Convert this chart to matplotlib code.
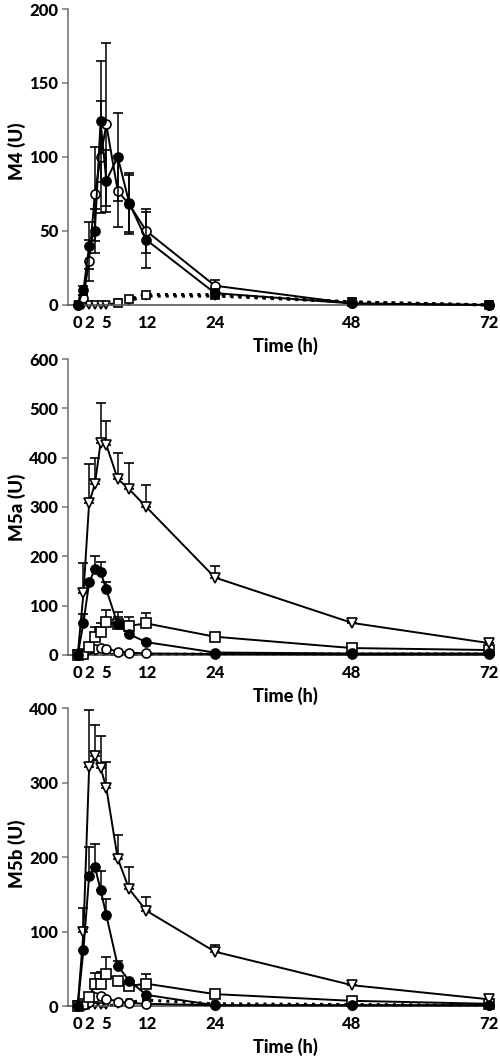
import numpy as np
import matplotlib
matplotlib.use("Agg")
import matplotlib.pyplot as plt

plt.rcParams['font.family'] = ['Lato', 'DejaVu Sans']
plt.rcParams['font.weight'] = 'black'

# sampling times (h)
times = [0, 1, 2, 3, 4, 5, 7, 9, 12, 24, 48, 72]
xticks = [0, 2, 5, 12, 24, 48, 72]
nan = np.nan

# M4 panel
m4_filled = [0, 10, 40, 50, 124, 84, 100, 69, 44, 8, 1, 0]
m4_filled_err = [0, 3, 16, 15, 41, 21, 30, 20, 19, 3, 1, 0]
m4_open = [0, 5, 30, 75, 100, 122, 77, 68, 50, 13, 1, 0]
m4_open_err = [0, 2, 14, 32, 38, 55, 24, 20, 15, 4, 1, 0]
m4_tri = [0, 0, 0, 0, 0, 0, 1, 3, 6, 6, 2, 0]
m4_sq = [nan, nan, nan, nan, nan, nan, 1, 4, 7, 7, 2, 0]

# M5a panel
m5a_tri = [0, 125, 309, 346, 430, 426, 357, 336, 300, 157, 65, 24]
m5a_tri_err = [0, 61, 79, 53, 81, 49, 52, 54, 45, 24, 0, 0]
m5a_filled = [0, 65, 147, 174, 168, 133, 62, 42, 26, 5, 3, 3]
m5a_filled_err = [0, 18, 0, 26, 21, 14, 25, 0, 0, 0, 0, 0]
m5a_sq = [0, 2, 17, 37, 46, 66, 62, 59, 64, 37, 14, 10]
m5a_sq_err = [0, 0, 5, 19, 18, 26, 15, 19, 22, 5, 0, 0]
m5a_open = [0, 2, 13, 13, 15, 13, 7, 5, 3, 2, 1, 1]
m5a_dot = [0, 0, 1, 1, 1, 1, 1, 1, 1, 2, 2, 2]

# M5b panel
m5b_tri = [0, 99, 321, 335, 320, 293, 198, 157, 128, 73, 28, 9]
m5b_tri_err = [0, 32, 77, 42, 43, 34, 31, 29, 18, 9, 0, 0]
m5b_filled = [0, 75, 175, 187, 156, 122, 54, 34, 15, 1, 1, 1]
m5b_filled_err = [0, 0, 38, 30, 25, 22, 6, 0, 0, 0, 0, 0]
m5b_sq = [0, 3, 12, 29, 30, 43, 34, 27, 30, 16, 7, 3]
m5b_sq_err = [0, 0, 0, 15, 16, 23, 0, 0, 13, 0, 0, 0]
m5b_open = [0, 2, 6, 12, 13, 10, 6, 4, 3, 1, 1, 1]
m5b_dot = [0, 0, 0, 0, 0, 0, 2, 5, 8, 3, 2, 1]

LW = 1.4
MS = 6.5


def up(err):
    return [np.zeros(len(err)), err]


def series(ax, y, marker, face, ls='-', err=None, ms=MS, z=3):
    lw = 2.2 if ls == ':' else LW
    ax.errorbar(times, y, yerr=err, color='black', lw=lw, ls=ls,
                marker=marker, ms=ms, mfc=face, mec='black', mew=1.2,
                ecolor='black', elinewidth=1.1, capsize=3.5, capthick=1.1,
                zorder=z, clip_on=False)


def style(ax, ymax, ystep, label, ylab_y):
    ax.set_xlim(-1.7, 72.3)
    ax.set_ylim(0, ymax)
    ax.set_xticks(xticks)
    ax.set_yticks(np.arange(0, ymax + 1, ystep))
    for s in ['top', 'right']:
        ax.spines[s].set_visible(False)
    ax.spines['left'].set_color('#777777')
    ax.spines['bottom'].set_color('#555555')
    ax.spines['left'].set_linewidth(1.2)
    ax.spines['bottom'].set_linewidth(1.2)
    ax.tick_params(axis='x', length=0, pad=7, labelsize=12)
    ax.tick_params(axis='y', length=4, width=1.1, color='#777777', labelsize=12, pad=3)
    ax.set_ylabel(label, fontsize=13.5, fontweight='black')
    ax.yaxis.set_label_coords(-0.1, ylab_y)
    ax.set_xlabel('Time (h)', fontsize=13, fontweight='black')
    ax.xaxis.set_label_coords(0.515, -0.108)


fig = plt.figure(figsize=(5, 10.6), dpi=100)
ax1 = fig.add_axes([0.136, 0.7123, 0.846, 0.2792])
ax2 = fig.add_axes([0.136, 0.3821, 0.846, 0.2792])
ax3 = fig.add_axes([0.136, 0.0509, 0.846, 0.2811])

# M4
series(ax1, m4_tri, 'v', 'white', ls=':', ms=5.5, z=2)
series(ax1, m4_sq, 's', 'white', ls=':', ms=5.5, z=2)
series(ax1, m4_open, 'o', 'white', err=m4_open_err, z=3)
series(ax1, m4_filled, 'o', 'black', err=m4_filled_err, z=4)
style(ax1, 200, 50, 'M4 (U)', 0.52)

# M5a
series(ax2, m5a_dot, None, 'white', ls=':', z=2)
series(ax2, m5a_open, 'o', 'white', z=3)
series(ax2, m5a_sq, 's', 'white', err=up(m5a_sq_err), z=3)
series(ax2, m5a_filled, 'o', 'black', err=up(m5a_filled_err), z=4)
series(ax2, m5a_tri, 'v', 'white', err=up(m5a_tri_err), z=3)
style(ax2, 600, 100, 'M5a (U)', 0.50)

# M5b
series(ax3, m5b_dot, 'v', 'white', ls=':', ms=5, z=2)
series(ax3, m5b_open, 'o', 'white', z=3)
series(ax3, m5b_sq, 's', 'white', err=up(m5b_sq_err), z=3)
series(ax3, m5b_filled, 'o', 'black', err=up(m5b_filled_err), z=4)
series(ax3, m5b_tri, 'v', 'white', err=up(m5b_tri_err), z=3)
style(ax3, 400, 100, 'M5b (U)', 0.51)

fig.savefig('out.png', dpi=100)
